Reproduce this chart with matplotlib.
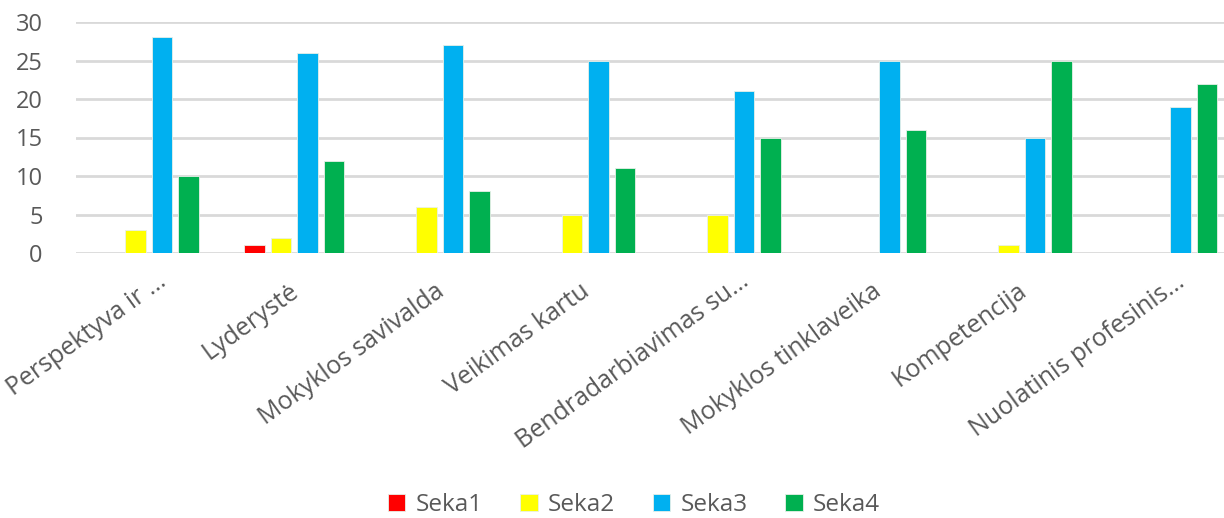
import matplotlib
matplotlib.use("Agg")
import matplotlib.pyplot as plt
import matplotlib.transforms as mtransforms
import numpy as np

plt.rcParams['font.family'] = ['Open Sans', 'DejaVu Sans']

categories = ["Perspektyva ir …", "Lyderystė", "Mokyklos savivalda", "Veikimas kartu",
              "Bendradarbiavimas su…", "Mokyklos tinklaveika", "Kompetencija",
              "Nuolatinis profesinis…"]
series_names = ["Seka1", "Seka2", "Seka3", "Seka4"]
seka1 = [0, 1, 0, 0, 0, 0, 0, 0]
seka2 = [3, 2, 6, 5, 5, 0, 1, 0]
seka3 = [28, 26, 27, 25, 21, 25, 15, 19]
seka4 = [10, 12, 8, 11, 15, 16, 25, 22]
colors = ["#FF0000", "#FFFF00", "#00B0F0", "#00B050"]

text_color = "#595959"
grid_color = "#D9D9D9"

fig = plt.figure(figsize=(12.24, 5.18), dpi=100)
ax = fig.add_axes((76 / 1224, 1 - 253 / 518, (1240 - 76) / 1224, (253 - 22) / 518))

x = np.arange(len(categories))
step = 0.182
width = 0.14
for i, (vals, name, c) in enumerate(zip([seka1, seka2, seka3, seka4], series_names, colors)):
    ax.bar(x + (i - 1.5) * step, vals, width=width, color=c, label=name,
           edgecolor="#E8F0E8", linewidth=0.6, zorder=3)

ax.set_xlim(-0.5, len(categories) - 0.5)
ax.set_ylim(0, 30)
ax.set_yticks(range(0, 31, 5))
ax.yaxis.grid(True, color=grid_color, linewidth=2, zorder=0)
for s in ["top", "right", "left", "bottom"]:
    ax.spines[s].set_visible(False)
ax.tick_params(axis="both", length=0, colors=text_color)
ax.tick_params(axis="y", labelsize=17, pad=24)

# category labels: rotated, baseline end placed just right of the tick
angle = 36
ax.set_xticks(x)
ax.set_xticklabels(categories, rotation=angle, ha="right", va="baseline",
                   rotation_mode="anchor", fontsize=18, color=text_color)
rad = np.deg2rad(angle)
for lbl in ax.get_xticklabels():
    dx, dy = 6, -36
    if lbl.get_text().endswith("…"):
        # truncated labels reach a bit further along the text direction
        dx += 16 * np.cos(rad)
        dy += 16 * np.sin(rad)
    off = mtransforms.ScaledTranslation(dx / 100, dy / 100, fig.dpi_scale_trans)
    lbl.set_transform(lbl.get_transform() + off)

fig.legend(loc="center", bbox_to_anchor=(634 / 1224, 1 - 505 / 518), ncol=4,
           frameon=False, fontsize=17.5, labelcolor=text_color,
           handlelength=0.72, handleheight=0.72, handletextpad=0.42, columnspacing=1.55)

fig.savefig("out.png", dpi=100)
